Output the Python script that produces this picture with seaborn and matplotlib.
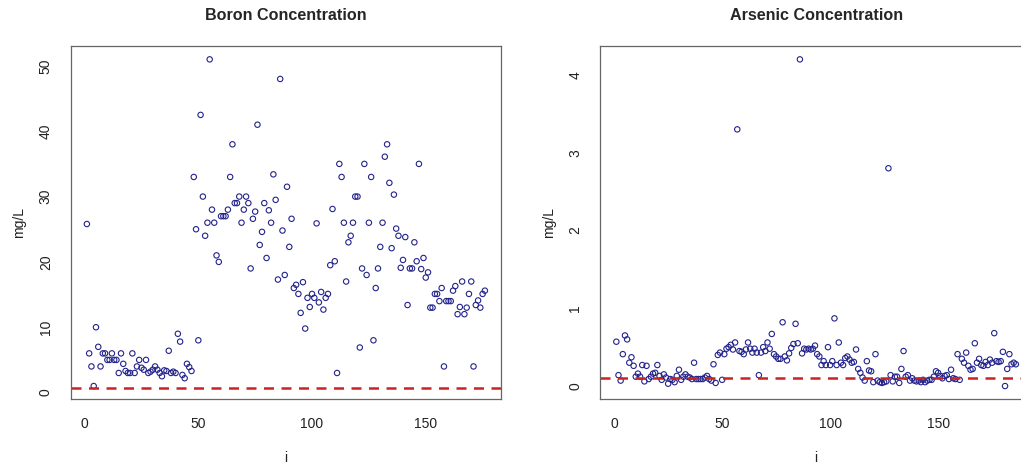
import numpy as np
import pandas as pd
import matplotlib
matplotlib.use("Agg")
import matplotlib.pyplot as plt
import seaborn as sns

# values (sample index i = 1..n)
boron = [25.8, 6, 4, 1, 10, 7, 4, 6, 6, 5,
         5, 6, 5, 5, 3, 6, 4.4, 3.3, 3, 3,
         6, 3, 4, 5, 3.8, 3.5, 5, 3, 3.2, 3.5,
         4, 3.5, 3, 2.5, 3.4, 3.3, 6.4, 3, 3.2, 3,
         9, 7.8, 2.7, 2.2, 4.4, 3.9, 3.3, 33, 25, 8,
         42.5, 30, 24, 26, 51, 28, 26, 21, 20, 27,
         27, 27, 28, 33, 38, 29, 29, 30, 26, 28,
         30, 29, 19, 26.6, 27.7, 41, 22.6, 24.6, 29, 20.6,
         27.9, 26, 33.4, 29.5, 17.3, 48, 24.8, 18, 31.5, 22.3,
         26.6, 16, 16.5, 15.1, 12.2, 16.9, 9.8, 14.5, 13.1, 15.1,
         14.5, 25.9, 13.8, 15.4, 12.7, 14.5, 15.1, 19.5, 28.1, 20.1,
         3, 35, 33, 26, 17, 23, 24, 26, 30, 30,
         6.9, 19, 35, 18, 26, 33, 8, 16, 19, 22.3,
         26, 36.1, 38, 32.1, 22.1, 30.3, 25.1, 24, 19.1, 20.3,
         23.8, 13.4, 19, 19, 23, 20.1, 35, 18.9, 20.6, 17.6,
         18.4, 13, 13, 15.1, 15.1, 14, 16, 4, 14, 14,
         14, 15.6, 16.3, 12, 13.1, 17, 12, 13, 15.1, 17,
         4, 13.4, 14.1, 13, 15.1, 15.6]

arsenic = [0.57, 0.14, 0.07, 0.41, 0.65, 0.60, 0.30, 0.37, 0.26, 0.12,
           0.16, 0.12, 0.27, 0.06, 0.26, 0.09, 0.12, 0.16, 0.17, 0.27,
           0.13, 0.08, 0.15, 0.11, 0.03, 0.09, 0.08, 0.05, 0.13, 0.21,
           0.08, 0.12, 0.15, 0.12, 0.11, 0.09, 0.30, 0.09, 0.09, 0.09,
           0.09, 0.11, 0.13, 0.09, 0.07, 0.28, 0.04, 0.40, 0.43, 0.08,
           0.41, 0.48, 0.50, 0.53, 0.47, 0.56, 3.30, 0.45, 0.44, 0.41,
           0.47, 0.56, 0.48, 0.43, 0.48, 0.43, 0.14, 0.43, 0.50, 0.45,
           0.56, 0.48, 0.67, 0.41, 0.38, 0.35, 0.35, 0.82, 0.38, 0.33,
           0.42, 0.49, 0.54, 0.80, 0.55, 4.20, 0.42, 0.48, 0.47, 0.48,
           0.47, 0.48, 0.52, 0.41, 0.38, 0.27, 0.32, 0.27, 0.50, 0.27,
           0.32, 0.87, 0.27, 0.56, 0.30, 0.27, 0.36, 0.38, 0.34, 0.30,
           0.31, 0.47, 0.22, 0.17, 0.11, 0.07, 0.32, 0.20, 0.19, 0.05,
           0.41, 0.07, 0.05, 0.04, 0.05, 0.06, 2.80, 0.14, 0.06, 0.12,
           0.12, 0.04, 0.22, 0.45, 0.12, 0.14, 0.07, 0.10, 0.07, 0.06,
           0.07, 0.05, 0.08, 0.05, 0.07, 0.08, 0.08, 0.12, 0.19, 0.17,
           0.13, 0.10, 0.13, 0.14, 0.09, 0.21, 0.10, 0.09, 0.41, 0.08,
           0.35, 0.30, 0.43, 0.26, 0.21, 0.22, 0.55, 0.30, 0.35, 0.27,
           0.26, 0.31, 0.27, 0.34, 0.30, 0.68, 0.32, 0.31, 0.32, 0.44,
           0.00, 0.22, 0.41, 0.28, 0.30, 0.28]

boron_limit = 0.75
arsenic_limit = 0.1
titles = ["Boron Concentration", "Arsenic Concentration"]
boron_yticks = [0, 10, 20, 30, 40, 50]
arsenic_yticks = [0, 1, 2, 3, 4]
xticks = [0, 50, 100, 150]

sns.set_style("white")
plt.rcParams["font.family"] = ["Liberation Sans", "DejaVu Sans"]

fig = plt.figure(figsize=(10.21, 4.63), dpi=100)
ax1 = fig.add_axes([0.0695, 0.138, 0.421, 0.762])
ax2 = fig.add_axes([0.588, 0.138, 0.4226, 0.762])

panels = [(ax1, boron, boron_limit, boron_yticks, titles[0]),
          (ax2, arsenic, arsenic_limit, arsenic_yticks, titles[1])]

for ax, vals, limit, yticks, title in panels:
    df = pd.DataFrame({"i": np.arange(1, len(vals) + 1), "value": vals})
    sns.scatterplot(data=df, x="i", y="value", ax=ax, marker="o", s=15,
                    fc="none", ec="#23238c", linewidth=0.8, legend=False)
    ax.axhline(limit, color="#cc2222", linestyle=(0, (4, 3)), linewidth=1.8)

    # R style 4% padding on both axes
    n = len(vals)
    xpad = 0.04 * (n - 1)
    ax.set_xlim(1 - xpad, n + xpad)
    lo, hi = min(vals), max(vals)
    ypad = 0.04 * (hi - lo)
    ax.set_ylim(lo - ypad, hi + ypad)

    ax.set_xticks(xticks)
    ax.set_yticks(yticks)
    ax.tick_params(axis="both", direction="out", length=6, width=0.8,
                   color="#333333", labelsize=10, labelcolor="#222222", pad=7)
    for lab in ax.get_yticklabels():
        lab.set_rotation(90)
        lab.set_va("center")
    for sp in ax.spines.values():
        sp.set_color("#666666")
        sp.set_linewidth(0.9)
    ax.set_xlabel("i", fontsize=10, color="#222222", labelpad=14)
    ax.set_ylabel("mg/L", fontsize=10, color="#222222", labelpad=9)
    ax.set_title(title, fontsize=11.6, fontweight="bold", pad=19)

fig.savefig("out.png", dpi=100)
